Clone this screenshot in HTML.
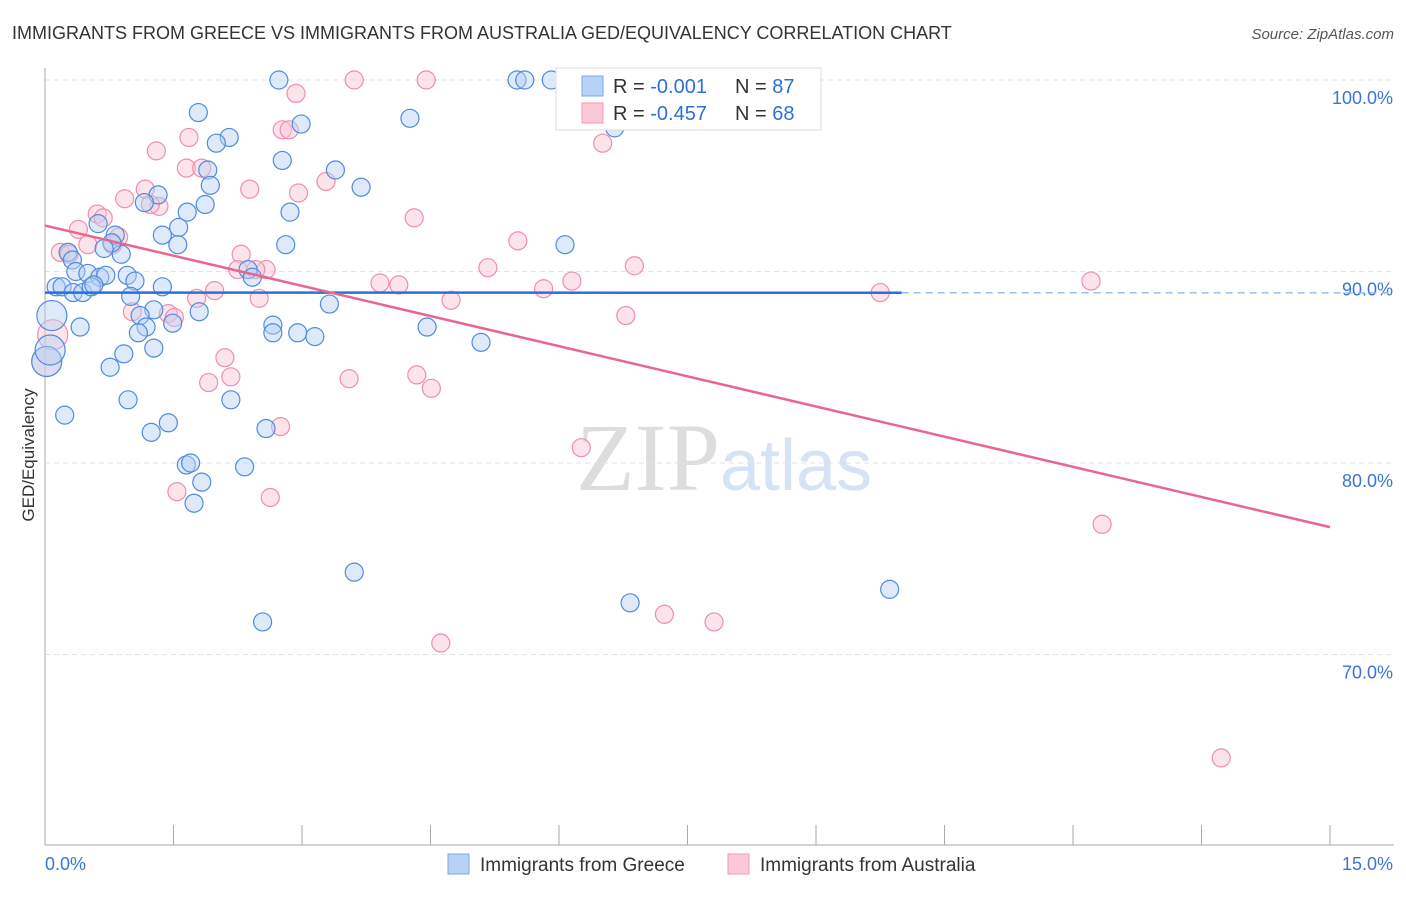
<!DOCTYPE html>
<html><head><meta charset="utf-8"><style>
body{margin:0;background:#fff;font-family:"Liberation Sans",sans-serif}
</style></head><body>
<svg width="1406" height="892" viewBox="0 0 1406 892" xmlns="http://www.w3.org/2000/svg">
<text x="12" y="39" font-size="18" fill="#333">IMMIGRANTS FROM GREECE VS IMMIGRANTS FROM AUSTRALIA GED/EQUIVALENCY CORRELATION CHART</text>
<text x="1394" y="39" font-size="15" fill="#555" font-style="italic" text-anchor="end">Source: ZipAtlas.com</text>
<text x="720" y="490" font-size="96" fill="#ddd" text-anchor="end" font-family="Liberation Serif">ZIP</text>
<text x="720" y="490" font-size="72" fill="#d5e3f5">atlas</text>
<g id="grid"></g>
<g id="axes"></g>
<g id="marks"></g>
<text transform="translate(34,455) rotate(-90)" font-size="17" fill="#333" text-anchor="middle">GED/Equivalency</text>
<g>
<rect x="556" y="68" width="265" height="62" fill="#fff" stroke="#ddd"/>
<rect x="582" y="76" width="21" height="20" fill="#b8d3f5" stroke="#7aa8e8"/>
<rect x="582" y="103" width="21" height="20" fill="#fcc9d7" stroke="#f09ab3"/>
<text x="613" y="93" font-size="20" fill="#333">R = <tspan fill="#2f6fd6">-0.001</tspan></text>
<text x="735" y="93" font-size="20" fill="#333">N = <tspan fill="#2f6fd6">87</tspan></text>
<text x="613" y="120" font-size="20" fill="#333">R = <tspan fill="#2f6fd6">-0.457</tspan></text>
<text x="735" y="120" font-size="20" fill="#333">N = <tspan fill="#2f6fd6">68</tspan></text>
</g>
<g>
<rect x="448" y="854" width="21" height="20" fill="#b8d3f5" stroke="#7aa8e8"/>
<text x="480" y="871" font-size="19" fill="#333">Immigrants from Greece</text>
<rect x="728" y="854" width="21" height="20" fill="#fcc9d7" stroke="#f09ab3"/>
<text x="760" y="871" font-size="19" fill="#333">Immigrants from Australia</text>
</g>
</svg>
<script>
const yTicks=[100,90,80,70];
const yTickLabels=["100.0%","90.0%","80.0%","70.0%"];
const xTicks=[0,1.5,3,4.5,6,7.5,9,10.5,12,13.5,15];
const xEndLabels=["0.0%","15.0%"];
const greeceX=[2.73,5.51,5.60,5.91,1.79,4.26,2.99,2.15,2.00,6.65,2.77,1.90,3.39,1.93,3.69,1.32,1.16,1.87,2.86,1.66,1.56,0.62,1.37,0.82,2.81,1.55,6.07,0.27,0.89,0.32,0.78,0.69,0.36,0.50,0.96,0.64,0.71,2.37,2.42,1.05,0.13,0.20,0.33,0.44,0.54,0.57,1.37,1.00,3.32,1.80,1.27,1.11,0.08,0.41,1.18,1.49,2.66,2.66,2.95,3.15,4.46,5.09,1.09,0.92,1.27,0.76,0.02,0.97,2.17,0.23,1.44,1.24,2.58,1.65,1.70,2.33,1.83,1.74,3.61,2.54,6.83,9.86,0.06];
const greeceY=[100,100,100,100,98.3,98.0,97.7,97.0,96.7,97.5,95.8,95.3,95.3,94.5,94.4,94.0,93.6,93.5,93.1,93.1,92.3,92.5,91.9,91.9,91.4,91.4,91.4,91.0,90.9,90.6,91.5,91.2,90.0,89.9,89.8,89.7,89.8,90.1,89.7,89.5,89.2,89.2,88.9,88.9,89.2,89.3,89.2,88.7,88.3,87.9,88.0,87.7,87.7,87.1,87.1,87.3,87.2,86.8,86.8,86.6,87.1,86.3,86.8,85.7,86.0,85.0,85.3,83.3,83.3,82.5,82.1,81.6,81.8,79.9,80.0,79.8,79.0,77.9,74.3,71.7,72.7,73.4,85.9];
const ausX=[3.61,4.45,2.93,1.68,2.77,2.85,6.51,1.30,1.65,1.83,3.28,2.96,2.39,1.17,0.93,1.33,0.61,4.31,1.23,0.39,0.68,5.52,0.50,0.86,0.18,2.29,0.28,2.25,2.58,2.46,5.17,6.88,3.91,4.13,6.15,5.82,12.21,9.75,1.98,1.77,2.50,4.74,1.02,1.44,1.51,6.78,0.09,2.10,2.17,3.55,4.34,4.51,1.91,1.54,2.63,2.75,6.26,12.34,7.23,7.81,4.62,13.73,0.02,0.79];
const ausY=[100,100,99.3,97.0,97.4,97.4,96.7,96.3,95.4,95.4,94.7,94.1,94.3,94.3,93.8,93.4,93.0,92.8,93.5,92.2,92.8,91.6,91.4,91.8,91.0,90.9,90.9,90.1,90.1,90.1,90.2,90.3,89.4,89.3,89.5,89.1,89.5,88.9,89.0,88.6,88.6,88.5,87.9,87.8,87.6,87.7,86.7,85.5,84.5,84.4,84.6,83.9,84.2,78.5,78.2,81.9,80.8,76.8,72.1,71.7,70.6,64.6,85.3,91.4];
const greeceTrend=[88.9,-0.001];
const ausTrend=[92.4,-1.05];
const NS="http://www.w3.org/2000/svg";
const X=v=>45+v*(1285/15);
const Y=v=>80+(100-v)*19.15;
function mk(tag,attrs,parent){const e=document.createElementNS(NS,tag);for(const k in attrs)e.setAttribute(k,attrs[k]);document.getElementById(parent).appendChild(e);return e;}
yTicks.forEach((t,i)=>{
 const l=mk('line',{x1:45,x2:1394,y1:Y(t),y2:Y(t),stroke:'#e2e2e2','stroke-dasharray':'5,4'},'grid');
 
 
 const tx=mk('text',{x:1393,y:Y(t)+24,'font-size':18,fill:'#3a75d6','text-anchor':'end'},'axes');
 tx.textContent=yTickLabels[i];
 
 
});
const ya=mk('line',{x1:45,x2:45,y1:68,y2:845,stroke:'#aaa'},'axes');


const xa=mk('line',{x1:45,x2:1394,y1:845,y2:845,stroke:'#aaa'},'axes');


xTicks.forEach(t=>{
 const l=mk('line',{x1:X(t),x2:X(t),y1:825,y2:845,stroke:'#aaa'},'axes');
 
 
});
[[0,'start'],[15,'end']].forEach((p,i)=>{
 const tx=mk('text',{x:i?1393:45,y:870,'font-size':18,fill:'#3a75d6','text-anchor':p[1]},'axes');
 tx.textContent=xEndLabels[i];
 
 
});
function dots(xs,ys,fill,stroke,name){
 xs.forEach((x,i)=>{
  const r=x<0.1?15:9;
  const c=mk('circle',{cx:X(x),cy:Y(ys[i]),r:r,fill:fill,'fill-opacity':0.45,stroke:stroke,'stroke-width':1.2},'marks');
  
  
 });
}
dots(ausX,ausY,'#fbc3d3','#ec8fac','point-australia');
dots(greeceX,greeceY,'#b5d0f4','#4f8ae0','point-greece');
const g1=mk('line',{x1:X(0),y1:Y(greeceTrend[0]),x2:X(10),y2:Y(greeceTrend[0]+greeceTrend[1]*10),stroke:'#2d6fd6','stroke-width':2.5},'marks');


const g2=mk('line',{x1:X(10),y1:Y(greeceTrend[0]+greeceTrend[1]*10),x2:X(15.7),y2:Y(greeceTrend[0]+greeceTrend[1]*15.7),stroke:'#9bbde9','stroke-width':1.5,'stroke-dasharray':'7,5'},'marks');


const a1=mk('line',{x1:X(0),y1:Y(ausTrend[0]),x2:X(15),y2:Y(ausTrend[0]+ausTrend[1]*15),stroke:'#e8668f','stroke-width':2.5},'marks');


</script>
</body></html>
